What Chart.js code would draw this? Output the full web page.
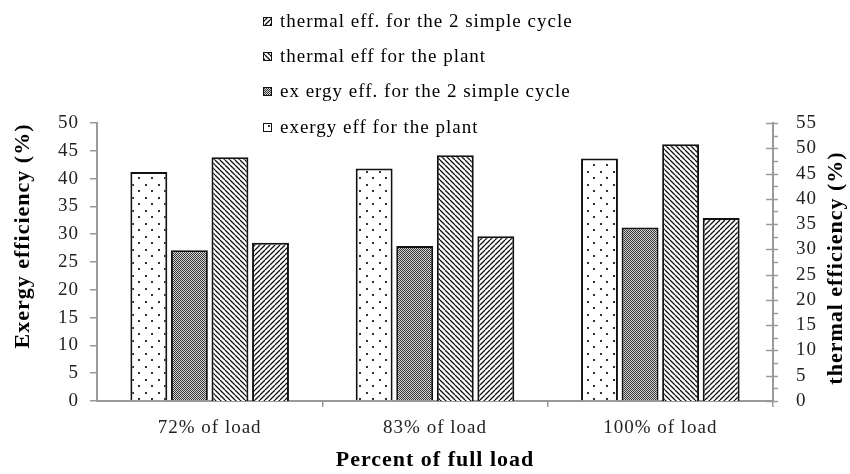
<!DOCTYPE html>
<html>
<head>
<meta charset="utf-8">
<script src="https://cdn.jsdelivr.net/npm/chart.js@4.4.1/dist/chart.umd.min.js"></script>
<style>
  html, body { margin: 0; padding: 0; background: #fff; }
  #wrap { width: 850px; height: 474px; position: relative; }
</style>
</head>
<body>
<div id="wrap"><canvas id="myChart" width="850" height="474"></canvas></div>
<script>
// categories and values
const categories = ['72% of load', '83% of load', '100% of load'];
const exergyPlant = [41.2, 41.8, 43.6];     // left axis
const exergySimple = [27.1, 27.9, 31.2];    // left axis
const thermalPlant = [48.2, 48.6, 50.8];    // right axis
const thermalSimple = [31.3, 32.6, 36.2];   // right axis
const seriesLabels = [
    'exergy eff for the plant',
    'ex ergy eff. for the 2 simple cycle',
    'thermal eff for the plant',
    'thermal eff. for the 2 simple cycle'
];

const serif = "'Liberation Serif', 'Times New Roman', serif";
const axisGray = '#9a9a9a';
const spacing = '1px';   // the original text is set a little wide

function makePattern(w, h, draw){
    let c = document.createElement('canvas');
    c.width = w;
    c.height = h;
    let g = c.getContext('2d');
    draw(g, w, h);
    return g.createPattern(c, 'repeat');
}

let dots = makePattern(13, 13, function(g, w, h){
    g.fillStyle = '#fff';
    g.fillRect(0, 0, w, h);
    g.fillStyle = '#333';
    g.fillRect(2, 2, 2, 2);
    g.fillRect(8, 8, 2, 2);
});

let checker = makePattern(2, 2, function(g, w, h){
    g.fillStyle = '#d8d8d8';
    g.fillRect(0, 0, w, h);
    g.fillStyle = '#333';
    g.fillRect(0, 0, 1, 1);
    g.fillRect(1, 1, 1, 1);
});

function diag(back){
    return makePattern(5, 5, function(g, w, h){
        g.fillStyle = '#fff';
        g.fillRect(0, 0, w, h);
        g.strokeStyle = '#111';
        g.lineWidth = 1.3;
        g.beginPath();
        for(let k = -1; k <= 1; k++){
            if(back){
                g.moveTo(k * w, 0);
                g.lineTo(k * w + w, h);
            } else {
                g.moveTo(k * w, h);
                g.lineTo(k * w + w, 0);
            }
        }
        g.stroke();
    });
}

let backDiag = diag(true);
let fwdDiag = diag(false);

// letter spacing for every text, also while the scales measure their labels
const wideText = {
    id: 'wideText',
    beforeUpdate: function(chart){ chart.ctx.letterSpacing = spacing; },
    beforeDraw: function(chart){ chart.ctx.letterSpacing = spacing; }
};

// legend, right axis ticks and y titles are drawn here
const extras = {
    id: 'extras',
    afterDraw: function(chart){
        let ctx = chart.ctx;
        let yR = chart.scales.yR;
        ctx.save();

        // right axis: major ticks cross the line, minor ticks outside
        ctx.strokeStyle = axisGray;
        ctx.lineWidth = 1.5;
        ctx.beginPath();
        for(let v = 0; v <= 55; v += 2.5){
            let py = Math.round(yR.getPixelForValue(v)) + 0.5;
            let major = (v % 5 === 0);
            ctx.moveTo(yR.left - (major ? 7 : 0), py);
            ctx.lineTo(yR.left + 5, py);
        }
        ctx.stroke();

        // y axis titles, both reading upwards
        ctx.fillStyle = '#000';
        ctx.font = 'bold 22px ' + serif;
        ctx.textAlign = 'center';
        ctx.textBaseline = 'middle';
        ctx.save();
        ctx.translate(23, 236);
        ctx.rotate(-Math.PI / 2);
        ctx.fillText('Exergy efficiency (%)', 0, 0);
        ctx.restore();
        ctx.save();
        ctx.translate(836, 268);
        ctx.rotate(-Math.PI / 2);
        ctx.fillText('thermal efficiency (%)', 0, 0);
        ctx.restore();

        // legend, in reverse dataset order
        let rows = [22, 57, 92, 128];
        ctx.font = '19px ' + serif;
        ctx.textAlign = 'left';
        let n = chart.data.datasets.length;
        for(let i = 0; i < n; i++){
            let ds = chart.data.datasets[n - 1 - i];
            let y = rows[i];
            ctx.fillStyle = ds.backgroundColor;
            ctx.fillRect(263, y - 5, 9, 9);
            ctx.strokeStyle = '#111';
            ctx.lineWidth = 1;
            ctx.strokeRect(263.5, y - 4.5, 8, 8);
            ctx.fillStyle = '#000';
            ctx.fillText(ds.label, 280, y);
        }
        ctx.restore();
    }
};

let ctx = document.getElementById('myChart');
let myBarChart = new Chart(ctx, {
    type: 'bar',
    data: {
        labels: categories,
        datasets: [
            {label: seriesLabels[0], data: exergyPlant, backgroundColor: dots, yAxisID: 'y'},
            {label: seriesLabels[1], data: exergySimple, backgroundColor: checker, yAxisID: 'y'},
            {label: seriesLabels[2], data: thermalPlant, backgroundColor: backDiag, yAxisID: 'yR'},
            {label: seriesLabels[3], data: thermalSimple, backgroundColor: fwdDiag, yAxisID: 'yR'}
        ]
    },
    options: {
        responsive: false,
        animation: false,
        datasets: {
            bar: {
                borderColor: '#111',
                borderWidth: 2,
                categoryPercentage: 0.72,
                barPercentage: 0.91
            }
        },
        layout: {
            padding: {top: 123, left: 0, right: 0, bottom: 0}
        },
        plugins: {
            legend: {display: false},
            tooltip: {enabled: false}
        },
        scales: {
            x: {
                grid: {
                    drawOnChartArea: false,
                    drawTicks: true,
                    tickLength: 6,
                    lineWidth: 1.5,
                    color: function(c){
                        return (c.index === 0 || c.index === categories.length) ? 'rgba(0,0,0,0)' : axisGray;
                    }
                },
                border: {color: axisGray, width: 2},
                ticks: {color: '#222', font: {family: serif, size: 19}, padding: 10},
                title: {display: true, text: 'Percent of full load', color: '#000',
                        font: {family: serif, size: 22, weight: 'bold'}, padding: 0},
                afterFit: function(scale){ scale.height = 73; }
            },
            y: {
                position: 'left',
                min: 0,
                max: 50,
                ticks: {stepSize: 5, autoSkip: false, color: '#222', font: {family: serif, size: 19}, padding: 11},
                grid: {drawOnChartArea: false, drawTicks: true, tickLength: 7, color: axisGray, lineWidth: 1.5},
                border: {color: axisGray, width: 2},
                afterFit: function(scale){ scale.width = 97; }
            },
            yR: {
                position: 'right',
                min: 0,
                max: 55,
                ticks: {stepSize: 5, autoSkip: false, color: '#222', font: {family: serif, size: 19}, padding: 15},
                grid: {display: false},
                border: {color: axisGray, width: 2},
                afterFit: function(scale){ scale.width = 77; }
            }
        }
    },
    plugins: [wideText, extras]
});
</script>
</body>
</html>
